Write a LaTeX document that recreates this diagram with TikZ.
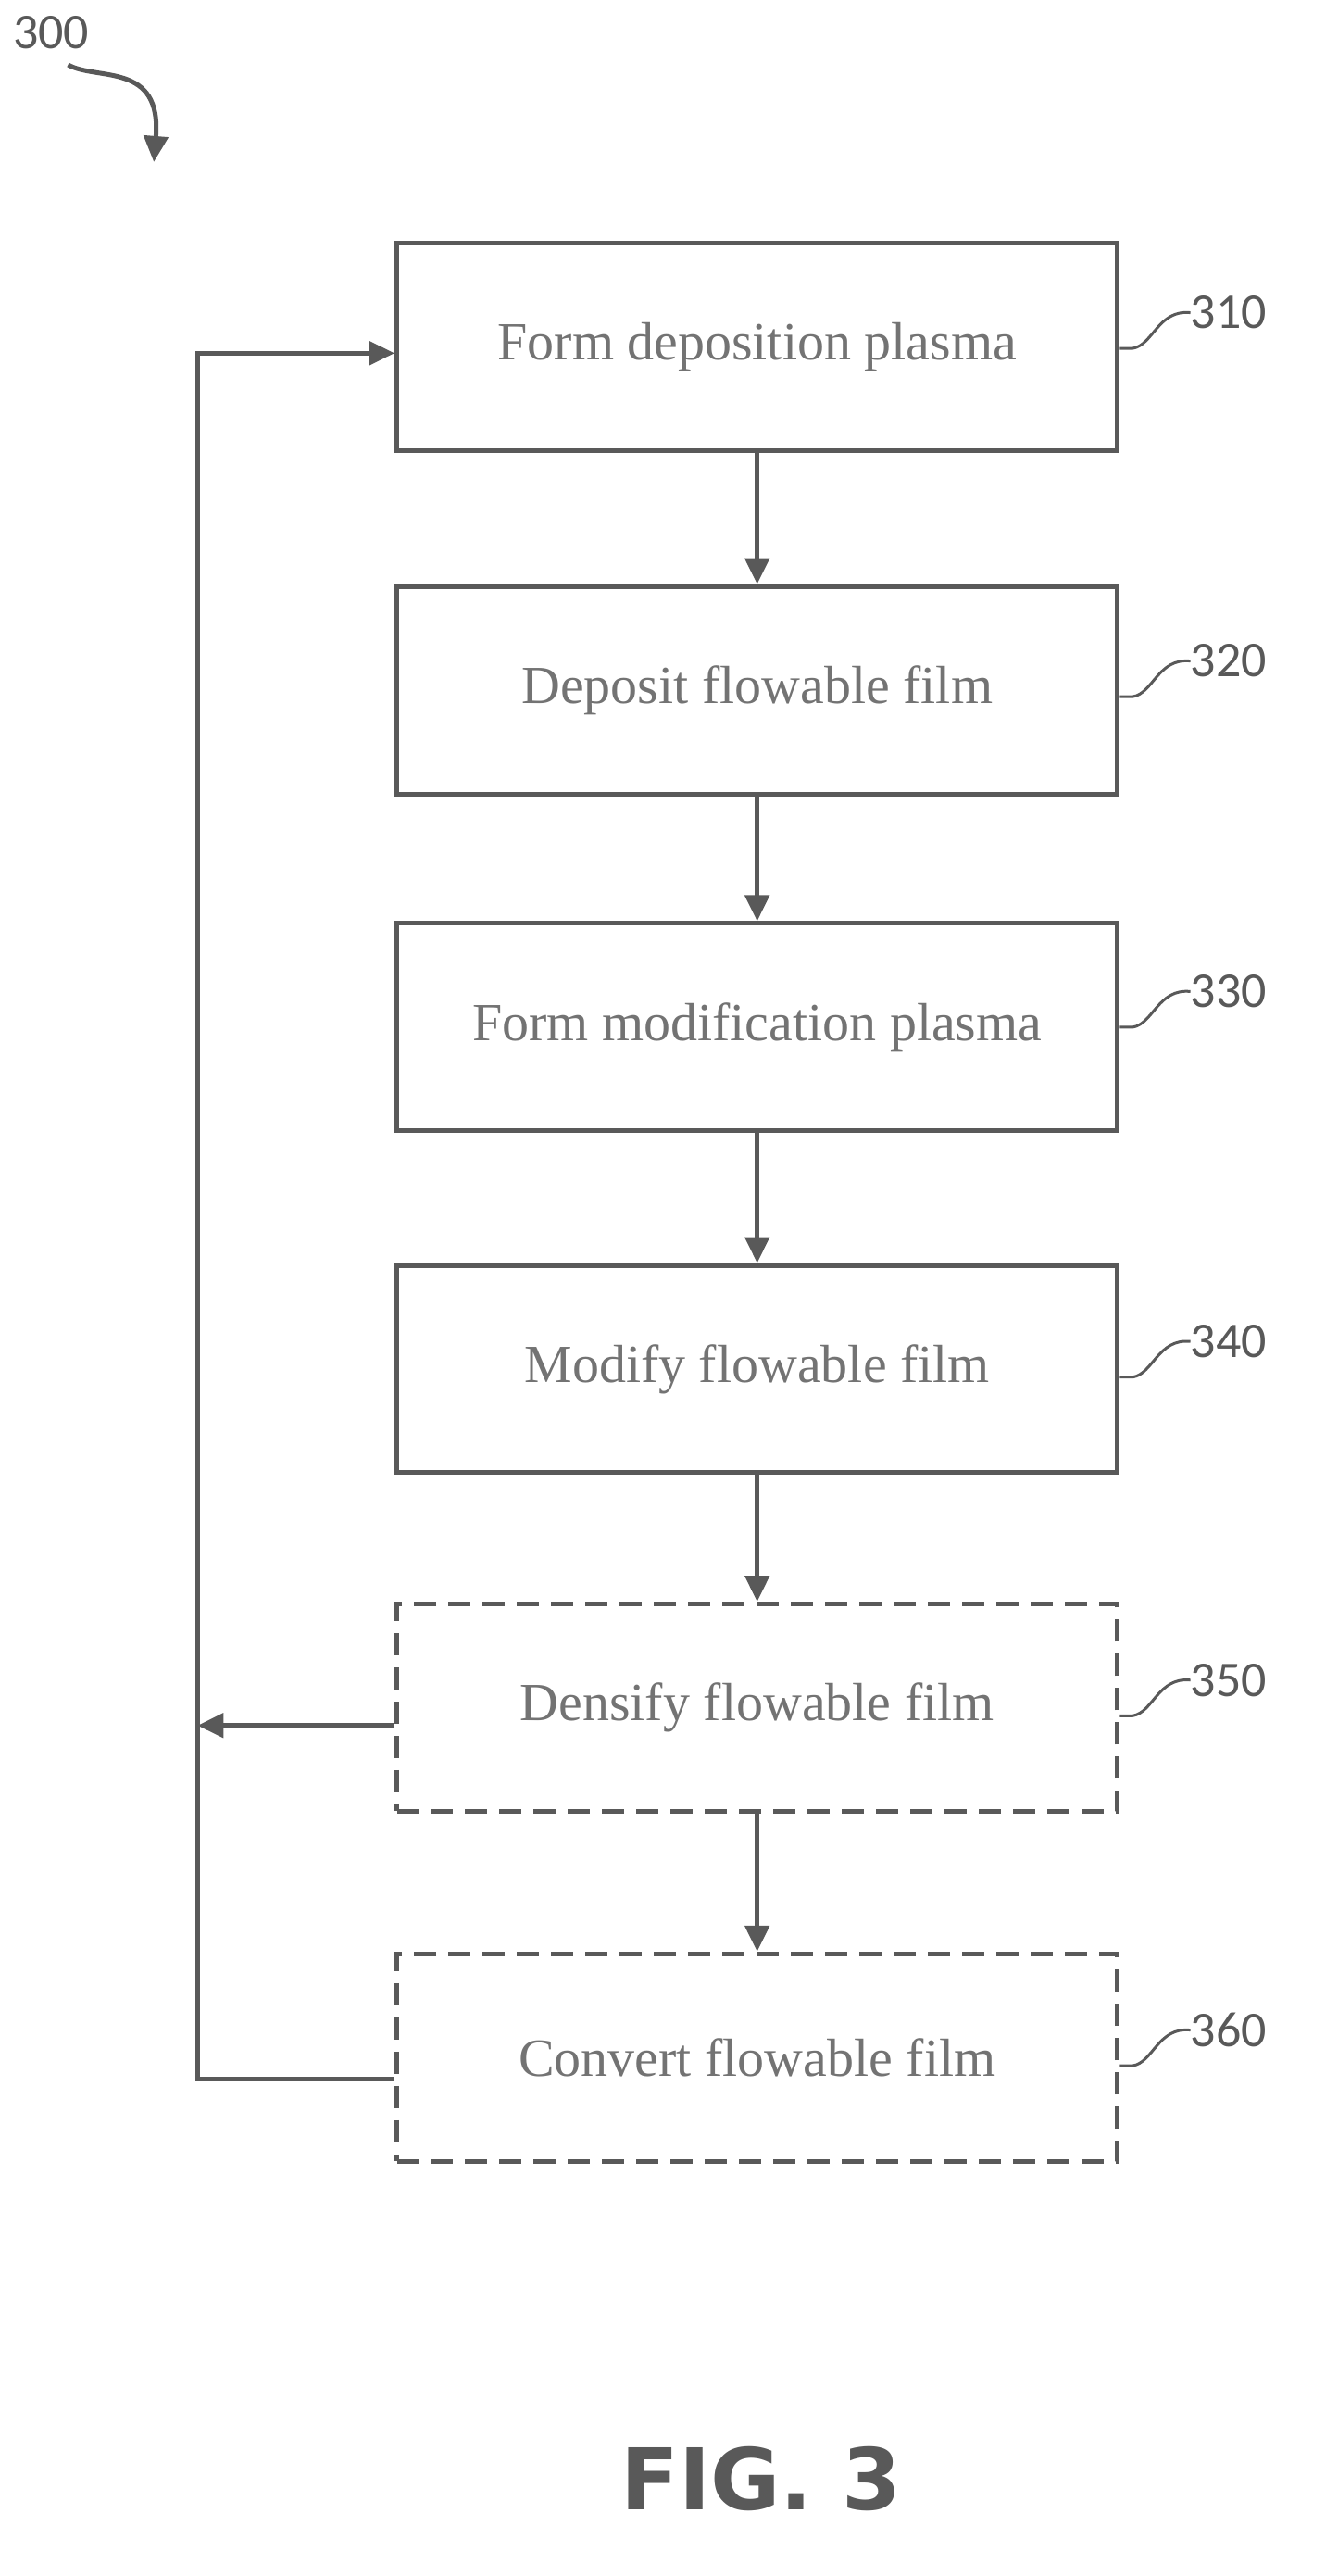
\documentclass[tikz,border=0pt]{standalone}
\usepackage{fontspec}
\setmainfont{Liberation Serif}
\newfontfamily\numfont{Carlito}
\newfontfamily\figfont{DejaVu Sans}
\usetikzlibrary{arrows.meta}
\definecolor{ln}{gray}{0.35}
\definecolor{tx}{gray}{0.45}
\begin{document}
\begin{tikzpicture}[x=1.75pt,y=-1.75pt,
  box/.style={draw=ln,line width=5pt,minimum width=445*1.75pt,minimum height=128*1.75pt,text=tx,font=\fontsize{58}{66}\selectfont,inner sep=0pt},
  dbox/.style={box,dash pattern=on 24pt off 13pt},
  arr/.style={draw=ln,line width=5pt,-{Triangle[length=28pt,width=26pt]}},
  lbl/.style={text=ln,font=\numfont\fontsize{54}{60}\selectfont,anchor=west,inner sep=0pt},
  sq/.style={draw=ln,line width=3pt}]
\useasboundingbox (0,0) rectangle (826,1590);
\node[box] (b1) at (467.5,214) {Form deposition plasma};
\node[box] (b2) at (467.5,426) {Deposit flowable film};
\node[box] (b3) at (467.5,634) {Form modification plasma};
\node[box] (b4) at (467.5,845) {Modify flowable film};
\node[dbox] (b5) at (467.5,1054) {Densify flowable film};
\node[dbox] (b6) at (467.5,1270) {Convert flowable film};
\draw[arr] (b1) -- (b2);
\draw[arr] (b2) -- (b3);
\draw[arr] (b3) -- (b4);
\draw[arr] (b4) -- (b5);
\draw[arr] (b5) -- (b6);
\coordinate (c5) at (122,1065);
\coordinate (lb) at (122,1283);
\coordinate (lt) at (122,218);
\draw[arr] (b5.west |- c5) -- (c5);
\draw[arr] (b6.west |- lb) -- (lb) -- (lt) -- (b1.west |- lt);
\foreach \n/\y/\t in {1/193/310,2/408/320,3/612/330,4/828/340,5/1037/350,6/1253/360}{
  \node[lbl] (l\n) at (735,\y) {\t};
  \draw[sq] (b\n.east |- 0,\y+22) -- ++(8,0) .. controls (712,\y+20) and (715,\y-2) .. (l\n.west);
}
\node[lbl] (l0) at (8,20) {300};
\coordinate (a0) at (95,100);
\draw[arr] (42,40) .. controls (60,50) and (100,38) .. (a0);
\node[text=ln,font=\figfont\bfseries\fontsize{92}{100}\selectfont,inner sep=0pt] (fig) at (470,1530) {FIG. 3};
\end{tikzpicture}
\end{document}
